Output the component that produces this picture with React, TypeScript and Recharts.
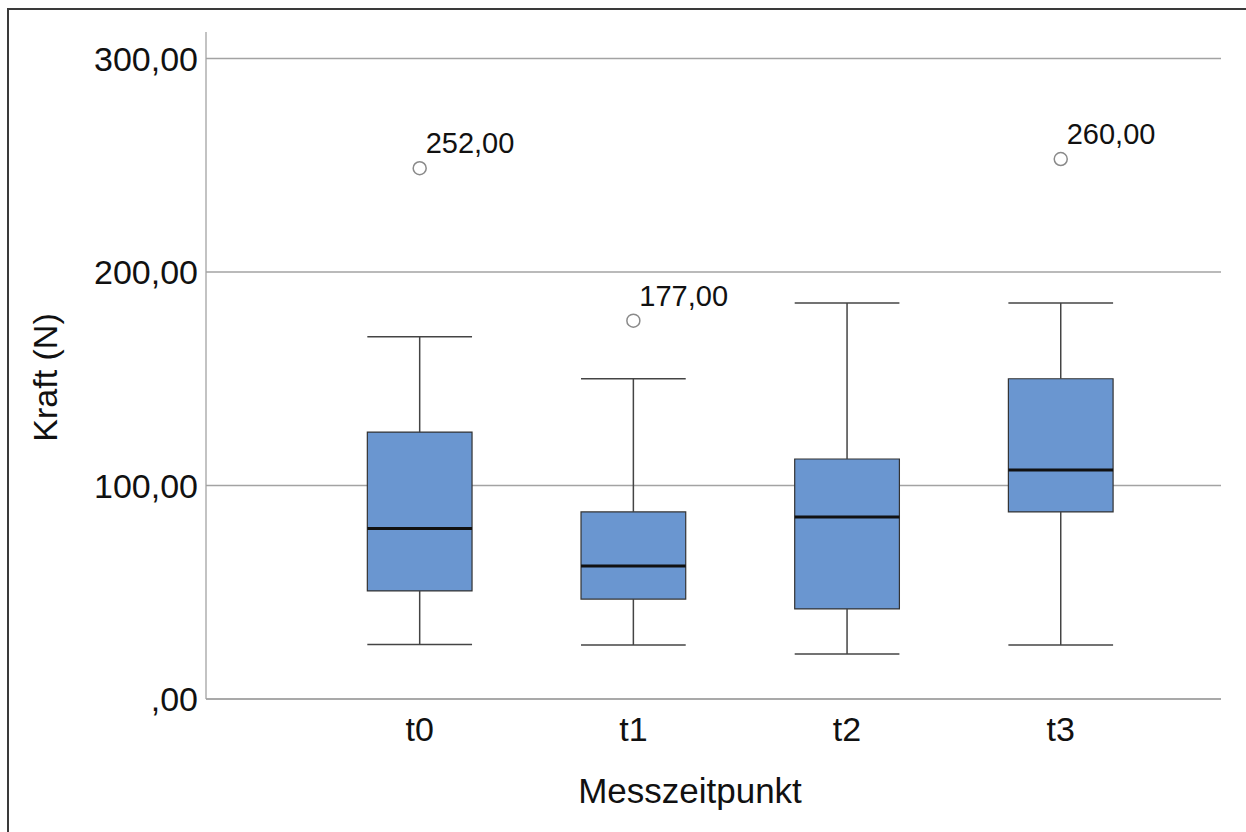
import {
  ComposedChart,
  XAxis,
  YAxis,
  CartesianGrid,
  ReferenceArea,
  ReferenceLine,
  Scatter,
} from "recharts";

const categories = ["t0", "t1", "t2", "t3"];
const whiskerLow = [25.5, 25.3, 21.1, 25.3];
const q1 = [50.6, 46.8, 42.2, 87.6];
const median = [79.8, 62.3, 85.2, 107.3];
const q3 = [125, 87.6, 112.4, 150];
const whiskerHigh = [169.7, 150, 185.5, 185.5];

const outlierCategory = ["t0", "t1", "t3"];
const outlierValues = [248.6, 177.2, 252.9];
const outlierLabels = ["252,00", "177,00", "260,00"];

const yTicks = [0, 100, 200, 300];

const FONT = "'Liberation Sans', Arial, sans-serif";
const HALF = 0.245;

const xPos = (cat: string) => categories.indexOf(cat) + 1;

const outliers = outlierCategory.map((c, i) => ({
  x: xPos(c),
  y: outlierValues[i],
  label: outlierLabels[i],
}));

function OutlierDot(props: any) {
  const { cx, cy, payload } = props;
  return (
    <g>
      <circle cx={cx} cy={cy} r={6.5} fill="#fff" stroke="#8a8a8a" strokeWidth={1.5} />
      <text x={cx + 6} y={cy - 15} fontSize={29} fontFamily={FONT} fill="#111">
        {payload.label}
      </text>
    </g>
  );
}

function YTitle(props: any) {
  const vb = props.viewBox;
  const x = vb.x + 57;
  const y = vb.y + vb.height / 2 + 12;
  return (
    <text
      x={x}
      y={y}
      transform={`rotate(-90, ${x}, ${y})`}
      textAnchor="middle"
      fontSize={34}
      fontFamily={FONT}
      fill="#111"
    >
      Kraft (N)
    </text>
  );
}

function XTitle(props: any) {
  const vb = props.viewBox;
  return (
    <text
      x={vb.x + 484}
      y={vb.y + 104}
      textAnchor="middle"
      fontSize={35}
      fontFamily={FONT}
      fill="#111"
    >
      Messzeitpunkt
    </text>
  );
}

export default function App() {
  return (
    <div style={{ position: "absolute", left: 0, top: 0, width: 1246, height: 832, background: "#fff" }}>
      <ComposedChart
        width={1246}
        height={832}
        data={outliers}
        margin={{ top: 32, right: 25, left: 0, bottom: 0 }}
      >
        <CartesianGrid
          vertical={false}
          horizontalValues={yTicks}
          stroke="#a3a3a3"
          strokeWidth={1.3}
        />
        <XAxis
          dataKey="x"
          type="number"
          domain={[0, 4.75]}
          ticks={categories.map((_, i) => i + 1)}
          tickFormatter={(v: number) => categories[v - 1]}
          height={133}
          tickLine={false}
          tickMargin={12}
          axisLine={{ stroke: "#a3a3a3", strokeWidth: 1.3 }}
          tick={{ fontSize: 34, fontFamily: FONT, fill: "#111" }}
          allowDataOverflow
          label={<XTitle />}
        />
        <YAxis
          type="number"
          domain={[0, 312.4]}
          ticks={yTicks}
          tickFormatter={(v: number) => (v === 0 ? ",00" : `${v},00`)}
          width={206}
          tickLine={false}
          axisLine={{ stroke: "#a3a3a3", strokeWidth: 1.3 }}
          tick={{ fontSize: 34, fontFamily: FONT, fill: "#111" }}
          allowDataOverflow
          label={<YTitle />}
        />
        {categories.map((c, i) => {
          const x = i + 1;
          return [
            <ReferenceLine
              key={`wh-${c}`}
              segment={[{ x, y: q3[i] }, { x, y: whiskerHigh[i] }]}
              stroke="#444"
              strokeWidth={1.5}
            />,
            <ReferenceLine
              key={`wl-${c}`}
              segment={[{ x, y: whiskerLow[i] }, { x, y: q1[i] }]}
              stroke="#444"
              strokeWidth={1.5}
            />,
            <ReferenceLine
              key={`ch-${c}`}
              segment={[{ x: x - HALF, y: whiskerHigh[i] }, { x: x + HALF, y: whiskerHigh[i] }]}
              stroke="#444"
              strokeWidth={1.5}
            />,
            <ReferenceLine
              key={`cl-${c}`}
              segment={[{ x: x - HALF, y: whiskerLow[i] }, { x: x + HALF, y: whiskerLow[i] }]}
              stroke="#444"
              strokeWidth={1.5}
            />,
            <ReferenceArea
              key={`box-${c}`}
              x1={x - HALF}
              x2={x + HALF}
              y1={q1[i]}
              y2={q3[i]}
              fill="#6a96d0"
              fillOpacity={1}
              stroke="#333"
              strokeWidth={1.2}
            />,
            <ReferenceLine
              key={`md-${c}`}
              segment={[{ x: x - HALF, y: median[i] }, { x: x + HALF, y: median[i] }]}
              stroke="#111"
              strokeWidth={3}
            />,
          ];
        })}
        <Scatter
          data={outliers}
          dataKey="y"
          shape={<OutlierDot />}
          isAnimationActive={false}
        />
      </ComposedChart>
      <div
        style={{
          position: "absolute",
          left: 7,
          top: 8,
          right: 0,
          bottom: 0,
          borderTop: "2px solid #3a3a3a",
          borderLeft: "2px solid #3a3a3a",
          pointerEvents: "none",
        }}
      />
    </div>
  );
}
